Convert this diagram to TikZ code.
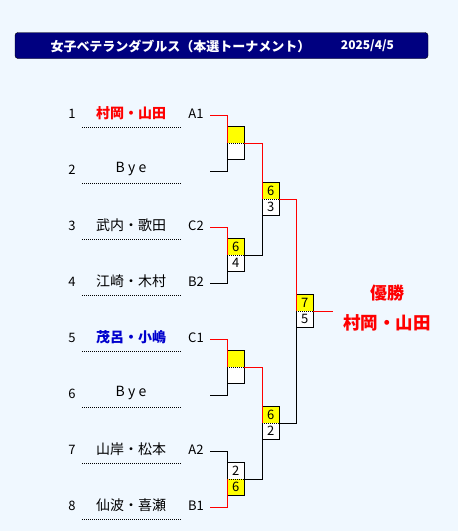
\documentclass[tikz,border=0pt]{standalone}
\usepackage{fontspec}
\setmainfont{Noto Sans CJK JP}
\usetikzlibrary{positioning}
\definecolor{pagebg}{HTML}{F0F8FF}
\definecolor{barnavy}{HTML}{000080}
\definecolor{winred}{HTML}{FF0000}
\definecolor{seedblue}{HTML}{0000CD}
\definecolor{hiyellow}{HTML}{FFFF00}
\tikzset{
  sbox/.style={minimum width=17pt,minimum height=16pt,inner sep=0pt,font=\fontsize{13}{15}\selectfont},
  win/.style={draw=winred,line width=1pt},
  lose/.style={draw=black,line width=1pt},
  dots/.style={line width=0.8pt,dash pattern=on 1pt off 1pt},
  plain/.style={black,font=\fontsize{14}{16}\selectfont},
  first/.style={winred,font=\bfseries\fontsize{14}{16}\selectfont},
  second/.style={seedblue,font=\bfseries\fontsize{14}{16}\selectfont}
}
% score box: name, x, y of middle, top score, bottom score, top fill, bottom fill
\newcommand\scorebox[7]{%
  \node[sbox,fill=#6,anchor=south west] (#1t) at (#2,#3) {#4};
  \node[sbox,fill=#7,anchor=north west] (#1b) at (#2,#3) {#5};
  \draw[line width=1pt] (#1t.north west) rectangle (#1b.south east);
  \draw[dots] (#1t.south west) -- (#1t.south east);}
\begin{document}
\begin{tikzpicture}[x=1pt,y=-1pt,every node/.style={inner sep=0pt,font=\fontsize{13}{15}\selectfont}]
\fill[pagebg] (0,0) rectangle (458,531);
\useasboundingbox (0,0) rectangle (458,531);
% title bar
\node[draw=black,fill=barnavy,rounded corners=3pt,minimum width=413pt,minimum height=26pt] (bar) at (221.5,45.5) {};
\node[white,font=\bfseries\fontsize{13}{15}\selectfont] (title) at (180.5,46) {女子ベテランダブルス（本選トーナメント）};
\node[white,font=\bfseries\fontsize{12}{14}\selectfont] (date) at (367.5,46) {2025/4/5};
% players
\foreach \i/\nm/\sd/\st in {1/村岡・山田/A1/first, 2/B y e/{}/plain, 3/武内・歌田/C2/plain, 4/江崎・木村/B2/plain,
    5/茂呂・小嶋/C1/second, 6/B y e/{}/plain, 7/山岸・松本/A2/plain, 8/仙波・喜瀬/B1/plain}{
  \pgfmathsetmacro\ry{115+56*(\i-1)}
  \node (k\i) at (72,\ry-1) {\i};
  \node[\st] (n\i) at (131,\ry-2) {\nm};
  \node (s\i) at (196,\ry-1) {\sd};
  \coordinate (e\i) at (210,\ry);
  \draw[dots] (82,\ry+12) -- (181,\ry+12);
}
% boxes
\scorebox{m1}{227}{143}{}{}{hiyellow}{white}
\scorebox{m2}{227}{255}{6}{4}{hiyellow}{white}
\scorebox{m3}{227}{367}{}{}{hiyellow}{white}
\scorebox{m4}{227}{479}{2}{6}{white}{hiyellow}
\scorebox{s1}{262}{199}{6}{3}{hiyellow}{white}
\scorebox{s2}{262}{423}{6}{2}{hiyellow}{white}
\scorebox{f}{296}{311}{7}{5}{hiyellow}{white}
% first round
\draw[win] (e1) -| (m1t.south west);
\draw[lose] (e2) -| (m1b.north west);
\draw[win] (e3) -| (m2t.south west);
\draw[lose] (e4) -| (m2b.north west);
\draw[win] (e5) -| (m3t.south west);
\draw[lose] (e6) -| (m3b.north west);
\draw[lose] (e7) -| (m4t.south west);
\draw[win] (e8) -| (m4b.north west);
% semi finals
\draw[win] (m1t.south east) -| (s1t.south west);
\draw[lose] (m2t.south east) -| (s1b.north west);
\draw[win] (m3t.south east) -| (s2t.south west);
\draw[lose] (m4t.south east) -| (s2b.north west);
% final
\draw[win] (s1t.south east) -| (ft.south west);
\draw[lose] (s2t.south east) -| (fb.north west);
\coordinate (out) at (333,311);
\draw[win] (ft.south east) -- (out);
% champion
\node[winred,font=\bfseries\fontsize{17}{19}\selectfont] (yusho) at (387,293) {優勝};
\node[winred,font=\bfseries\fontsize{17.5}{19}\selectfont] (champ) at (387,323) {村岡・山田};
\end{tikzpicture}
\end{document}
